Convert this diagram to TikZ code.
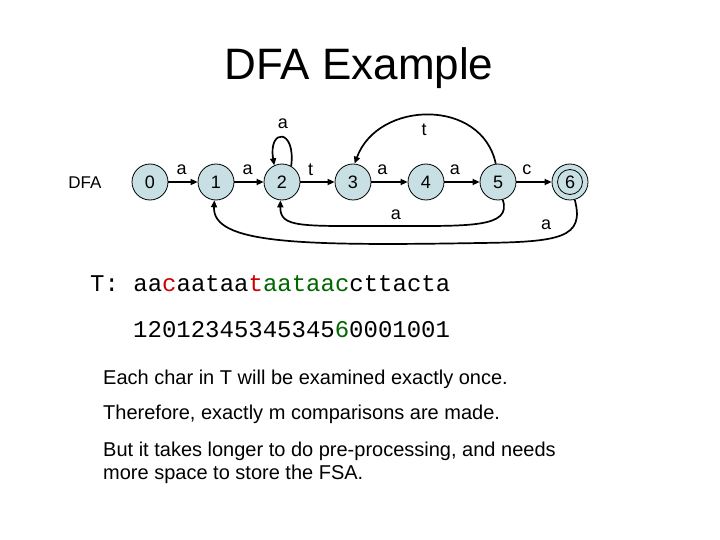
\documentclass[tikz,border=0pt]{standalone}
\usepackage{fontspec}
\setmainfont{Liberation Sans}
\setmonofont{Liberation Mono}
\usetikzlibrary{arrows.meta}
\definecolor{statefill}{RGB}{200,224,228}
\definecolor{hitred}{RGB}{204,0,0}
\definecolor{matchgreen}{RGB}{0,102,0}

\begin{document}
\begin{tikzpicture}[x=1pt,y=-1pt,line join=round,
  dfastate/.style={circle,draw,line width=0.8pt,fill=statefill,inner sep=0pt,minimum size=36pt,font=\fontsize{18}{18}\selectfont},
  trans/.style={-{Triangle[length=7pt,width=6pt]},line width=1.7pt},
  lbl/.style={font=\fontsize{18}{18}\selectfont,inner sep=1pt},
  body/.style={anchor=base west,inner sep=0pt,font=\fontsize{20}{20}\selectfont}]
\useasboundingbox (0,0) rectangle (720,540);
\node[font=\fontsize{44}{44}\selectfont] (title) at (359,68) {DFA Example};
\node[font=\fontsize{17}{17}\selectfont] (dfa) at (85,183) {DFA};
% states
\node[dfastate] (s0) at (150,182) {0};
\node[dfastate] (s1) at (216,182) {1};
\node[dfastate] (s2) at (282,182) {2};
\node[dfastate] (s3) at (353,182) {3};
\node[dfastate] (s4) at (426,182) {4};
\node[dfastate] (s5) at (498,182) {5};
\node[dfastate] (s6) at (570,182) {6};
\node[circle,draw,line width=0.8pt,inner sep=0pt,minimum size=25pt] (s6in) at (s6) {};
% forward moves
\draw[trans] (s0) -- node[lbl,pos=0.45,above=5pt] {a} (s1);
\draw[trans] (s1) -- node[lbl,pos=0.45,above=5pt] {a} (s2);
\draw[trans] (s2) -- node[lbl,pos=0.3,above=5pt] {t} (s3);
\draw[trans] (s3) -- node[lbl,pos=0.3,above=5pt] {a} (s4);
\draw[trans] (s4) -- node[lbl,pos=0.3,above=5pt] {a} (s5);
\draw[trans] (s5) -- node[lbl,pos=0.3,above=5pt] {c} (s6);
% fall-back moves
\draw[trans] (s2.60) .. controls (296,128) and (268,128) .. (s2.115);
\node[lbl] (l22) at (283,124) {a};
\draw[trans] (s5.97) .. controls (482,98) and (378,100) .. (s3.85);
\node[lbl] (l53) at (424,130) {t};
\draw[trans] (s5.-75) .. controls (512,228) and (470,226) .. (390,226) .. controls (300,226) and (280,228) .. (s2.-95);
\node[lbl] (l52) at (396,215) {a};
\draw[trans] (s6.-75) .. controls (585,238) and (560,242) .. (480,243) .. controls (300,246) and (212,244) .. (s1.-95);
\node[lbl] (l61) at (546,225) {a};
% text and states
\node[anchor=base west,inner sep=0pt,font=\ttfamily\fontsize{24}{24}\selectfont] (txt) at (90,291)
  {T: aa\textcolor{hitred}{c}aataa\textcolor{hitred}{t}\textcolor{matchgreen}{aataac}cttacta};
\node[anchor=base west,inner sep=0pt,font=\ttfamily\fontsize{24}{24}\selectfont] (run) at (133,337)
  {12012345345345\textcolor{matchgreen}{6}0001001};
\node[body] (n1) at (103,384) {Each char in T will be examined exactly once.};
\node[body] (n2) at (103,419) {Therefore, exactly m comparisons are made.};
\node[body] (n3) at (103,456) {But it takes longer to do pre-processing, and needs};
\node[body] (n4) at (103,479) {more space to store the FSA.};
\end{tikzpicture}
\end{document}
